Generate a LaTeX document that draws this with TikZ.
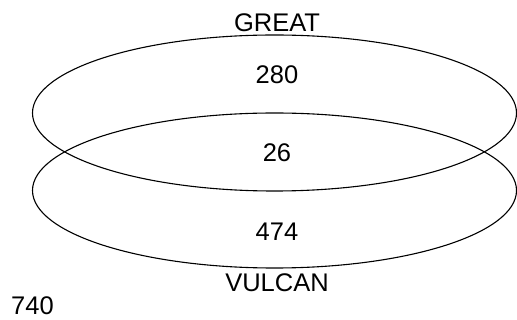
\documentclass[tikz,border=0pt]{standalone}
\usepackage{fontspec}
\setmainfont{Liberation Sans}
\begin{document}
\begin{tikzpicture}[x=1pt,y=-1pt,
  lbl/.style={anchor=base,inner sep=0pt,font=\fontsize{25.5}{30}\selectfont},
  setline/.style={draw=black,line width=1.1pt}]
\useasboundingbox (0,0) rectangle (517,320);
\draw[setline] (274.5,113) ellipse [x radius=242, y radius=78];
\draw[setline] (274.5,190.5) ellipse [x radius=242, y radius=77.5];
\node[lbl] (great) at (277,32) {GREAT};
\node[lbl] (a) at (277,84) {280};
\node[lbl] (ab) at (277,162) {26};
\node[lbl] (b) at (277,241) {474};
\node[lbl] (vulcan) at (277,292) {VULCAN};
\node[lbl] (none) at (32.5,315) {740};
\end{tikzpicture}
\end{document}
